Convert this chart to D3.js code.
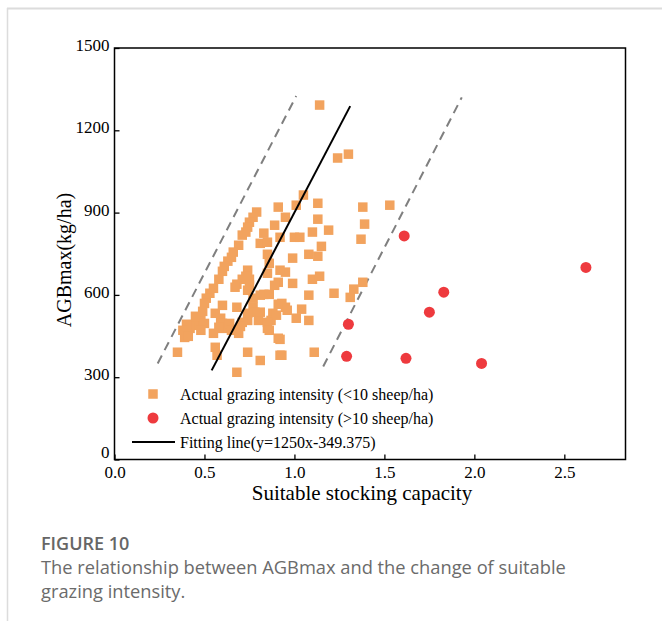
<!DOCTYPE html>
<html>
<head>
<meta charset="utf-8">
<script src="https://cdn.jsdelivr.net/npm/d3@7"></script>
<style>
  html, body { margin: 0; padding: 0; background: #fff; }
  svg { display: block; }
</style>
</head>
<body>
<script>
// ---------- data ----------
const xTicks = [0.0, 0.5, 1.0, 1.5, 2.0, 2.5];
const yTicks = [0, 300, 600, 900, 1200, 1500];

// Actual grazing intensity (<10 sheep/ha): [capacity, AGBmax]
const lowIntensity = [
  [1.14,1292],[1.24,1099],[1.30,1113],[1.05,964],[1.01,927],[1.13,934],[1.38,920],[1.53,927],
  [0.91,920],[0.95,883],[1.13,876],[1.39,858],[1.19,836],[1.10,829],[1.00,810],[1.03,810],
  [1.37,803],[1.15,777],[0.99,734],[1.08,748],[1.13,741],[0.95,683],[1.10,657],[1.14,668],
  [0.99,642],[1.38,646],[1.33,621],[1.31,591],[1.22,606],[1.08,599],[0.95,555],[0.93,569],
  [1.04,548],[1.01,515],[1.08,507],[0.92,438],[1.11,391],[0.93,380],
  [0.79,902],[0.77,883],[0.75,865],[0.74,847],[0.73,829],[0.71,818],[0.89,854],[0.83,825],
  [0.81,788],[0.85,792],[0.92,810],[0.69,781],[0.66,756],[0.65,737],[0.63,723],[0.61,704],
  [0.60,686],[0.58,657],[0.85,748],[0.86,715],[0.74,690],[0.73,668],[0.92,690],[0.85,679],
  [0.91,646],[0.89,635],[0.71,657],[0.75,657],[0.68,639],[0.67,628],[0.75,635],
  [0.55,624],[0.53,606],[0.51,588],[0.50,569],[0.74,617],[0.83,602],[0.86,602],[0.77,588],
  [0.81,599],[0.60,562],[0.68,555],[0.77,555],[0.78,537],[0.91,566],[0.96,544],[0.88,533],
  [0.87,507],[0.90,526],[0.80,507],[0.81,537],[0.74,533],[0.74,507],
  [0.48,518],[0.46,504],[0.44,489],[0.42,478],[0.40,460],[0.39,445],[0.56,533],[0.59,515],
  [0.60,496],[0.60,478],[0.58,482],[0.64,496],[0.65,471],[0.71,500],[0.70,485],[0.85,500],
  [0.85,478],[0.86,471],[0.55,460],[0.56,409],[0.57,380],[0.69,460],[0.91,442],[0.35,391],
  [0.74,391],[0.81,361],[0.92,380],[0.68,318],
  [0.49,540],[0.45,522],[0.40,493],[0.38,471],[0.41,449],[0.50,496],[0.48,471]
];

// Actual grazing intensity (>10 sheep/ha)
const highIntensity = [
  [1.61,815],[1.83,610],[1.75,537],[1.30,493],[1.29,376],[1.62,369],[2.04,350],[2.62,700]
];

// Fitting line y = 1250x - 349.375 (end points)
const fitLine = [[0.54,325],[1.31,1288]];
// Dashed boundary lines (end points)
const boundLeft  = [[0.24,350],[1.01,1325]];
const boundRight = [[1.16,339],[1.93,1320]];

const legendLabels = [
  "Actual grazing intensity (<10 sheep/ha)",
  "Actual grazing intensity (>10 sheep/ha)",
  "Fitting line(y=1250x-349.375)"
];

// ---------- drawing ----------
const W = 662, H = 621;
const orange = "#F2A35E", red = "#EE3A3E";
const serif = "Liberation Serif, Times New Roman, serif";

const svg = d3.select("body").append("svg").attr("width", W).attr("height", H);

// card border
svg.append("line").attr("x1", 7).attr("x2", W).attr("y1", 8.5).attr("y2", 8.5)
  .attr("stroke", "#dcdcdc").attr("stroke-width", 2);
svg.append("line").attr("x1", 7.5).attr("x2", 7.5).attr("y1", 8).attr("y2", H)
  .attr("stroke", "#dcdcdc").attr("stroke-width", 1.5);

const L = 114.5, R = 625.5, T = 48, B = 459.5;
const x = d3.scaleLinear().domain([0, 2.84]).range([L, R]);
const y = d3.scaleLinear().domain([0, 1500]).range([B, T]);

const g = svg.append("g");

// dashed bounds
const lineGen = d3.line().x(d => x(d[0])).y(d => y(d[1]));
[boundLeft, boundRight].forEach(b => {
  g.append("path").attr("d", lineGen(b)).attr("fill", "none")
    .attr("stroke", "#7f7f7f").attr("stroke-width", 2).attr("stroke-dasharray", "9,6");
});

// squares
const sq = 9.5;
g.selectAll("rect.low").data(lowIntensity).join("rect")
  .attr("class", "low")
  .attr("x", d => x(d[0]) - sq / 2).attr("y", d => y(d[1]) - sq / 2)
  .attr("width", sq).attr("height", sq).attr("fill", orange);

// circles
g.selectAll("circle.high").data(highIntensity).join("circle")
  .attr("class", "high")
  .attr("cx", d => x(d[0])).attr("cy", d => y(d[1])).attr("r", 5.5).attr("fill", red);

// fit line
g.append("path").attr("d", lineGen(fitLine)).attr("fill", "none")
  .attr("stroke", "#000").attr("stroke-width", 2);

// axes
const xAxis = svg.append("g").attr("transform", `translate(0,${B})`)
  .call(d3.axisBottom(x).tickValues(xTicks).tickFormat(d3.format(".1f")).tickSizeInner(-5).tickSizeOuter(0).tickPadding(6));
const yAxis = svg.append("g").attr("transform", `translate(${L},0)`)
  .call(d3.axisLeft(y).tickValues(yTicks).tickFormat(d3.format("d")).tickSizeInner(-5).tickSizeOuter(0).tickPadding(5));
[xAxis, yAxis].forEach(a => {
  a.attr("font-family", serif).attr("font-size", 17);
  a.select(".domain").remove();
  a.selectAll(".tick line").attr("stroke", "#000").attr("stroke-width", 1.3);
  a.selectAll(".tick text").attr("fill", "#000");
});
yAxis.selectAll(".tick text").attr("dy", d => d === 0 ? "-0.12em" : "0.15em");
xAxis.selectAll(".tick text").attr("dy", "0.72em");

// frame
svg.append("rect").attr("x", L).attr("y", T).attr("width", R - L).attr("height", B - T)
  .attr("fill", "none").attr("stroke", "#000").attr("stroke-width", 1.5);

// axis titles
svg.append("text").attr("x", 362).attr("y", 500).attr("text-anchor", "middle")
  .attr("font-family", serif).attr("font-size", 21).attr("fill", "#000")
  .text("Suitable stocking capacity");
svg.append("text").attr("transform", "translate(71,260) rotate(-90)").attr("text-anchor", "middle")
  .attr("font-family", serif).attr("font-size", 20).attr("fill", "#000")
  .text("AGBmax(kg/ha)");

// legend
const lg = svg.append("g");
const rows = [394, 418, 442];
lg.append("rect").attr("x", 153 - sq / 2).attr("y", rows[0] - sq / 2).attr("width", sq).attr("height", sq).attr("fill", orange);
lg.append("circle").attr("cx", 153).attr("cy", rows[1]).attr("r", 5.5).attr("fill", red);
lg.append("line").attr("x1", 132).attr("x2", 175).attr("y1", rows[2]).attr("y2", rows[2]).attr("stroke", "#000").attr("stroke-width", 2);
legendLabels.forEach((t, i) => {
  lg.append("text").attr("x", 180).attr("y", rows[i]).attr("dy", "0.35em")
    .attr("font-family", serif).attr("font-size", 16).attr("fill", "#000").text(t);
});

// caption
const sans = "Open Sans, Noto Sans, sans-serif";
svg.append("text").attr("x", 41).attr("y", 550).attr("font-family", sans).attr("font-size", 18)
  .attr("font-weight", 600).attr("fill", "#666").text("FIGURE 10");
svg.append("text").attr("x", 41).attr("y", 574).attr("font-family", sans).attr("font-size", 18.3)
  .attr("fill", "#6b6b6b").text("The relationship between AGBmax and the change of suitable");
svg.append("text").attr("x", 41).attr("y", 598).attr("font-family", sans).attr("font-size", 18.3)
  .attr("fill", "#6b6b6b").text("grazing intensity.");
</script>
</body>
</html>
